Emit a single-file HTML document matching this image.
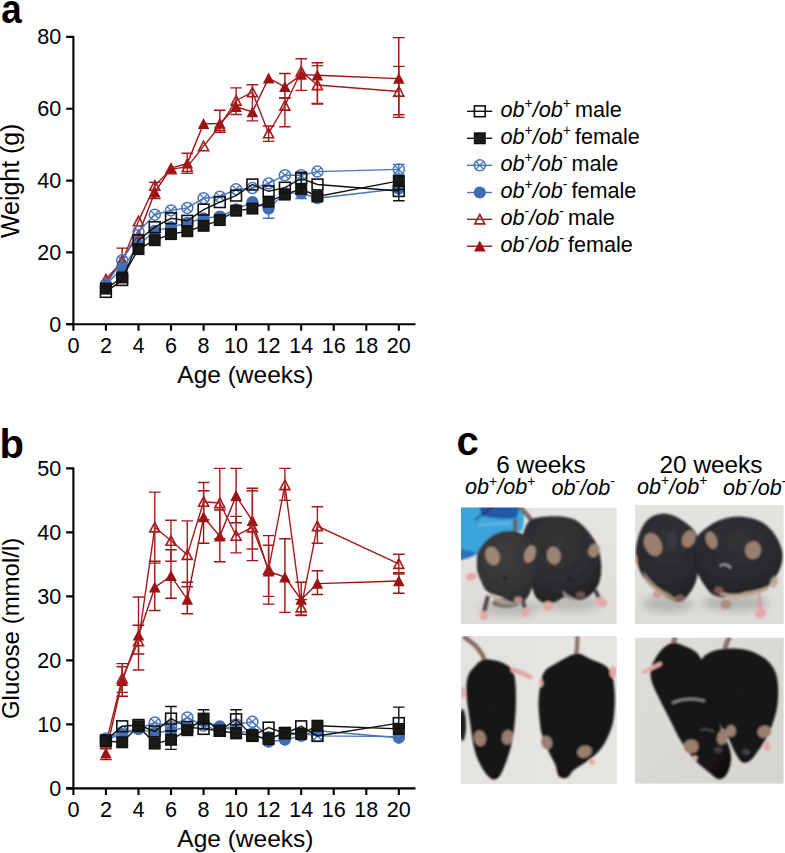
<!DOCTYPE html>
<html><head><meta charset="utf-8"><style>
html,body{margin:0;padding:0;background:#fff;width:785px;height:853px;overflow:hidden}
svg{display:block;font-family:"Liberation Sans",sans-serif}
.tk{font-size:21.6px;fill:#000}
.at{font-size:24.5px;fill:#000}
.pl{font-size:40px;font-weight:bold;fill:#000}
.gt{font-size:21.6px;fill:#000}
.sup{font-size:14px;font-style:normal}
.wk{font-size:24.4px;fill:#000}
</style></head><body>
<svg width="785" height="853" viewBox="0 0 785 853">
<defs>
<filter id="bl" x="-5%" y="-5%" width="110%" height="110%"><feGaussianBlur stdDeviation="1.2"/></filter>
<filter id="bl2" x="-5%" y="-5%" width="110%" height="110%"><feGaussianBlur stdDeviation="2.5"/></filter>
<clipPath id="c1"><rect x="461" y="507.5" width="155.8" height="116.5"/></clipPath>
<clipPath id="c2"><rect x="635" y="505" width="148.8" height="119"/></clipPath>
<clipPath id="c3"><rect x="461" y="636" width="155.8" height="148"/></clipPath>
<clipPath id="c4"><rect x="635" y="637.6" width="148.8" height="146.2"/></clipPath>
</defs>
<text transform="translate(1.2,23) scale(0.92,1)" class="pl">a</text>
<text x="-0.5" y="458.3" class="pl">b</text>
<text x="456.5" y="455.4" class="pl">c</text>
<path d="M73.4 36.0V325.2M66.2 324.2H415.5" stroke="#000" stroke-width="2.1" fill="none"/>
<path d="M66.2 324.2H73.4M66.2 252.4H73.4M66.2 180.6H73.4M66.2 108.7H73.4M66.2 36.9H73.4M73.4 324.2V330.8M105.9 324.2V330.8M138.5 324.2V330.8M171.0 324.2V330.8M203.6 324.2V330.8M236.1 324.2V330.8M268.6 324.2V330.8M301.2 324.2V330.8M333.7 324.2V330.8M366.3 324.2V330.8M398.8 324.2V330.8" stroke="#000" stroke-width="2.1" fill="none"/>
<text x="61.3" y="331.6" text-anchor="end" class="tk">0</text>
<text x="61.3" y="259.8" text-anchor="end" class="tk">20</text>
<text x="61.3" y="188.0" text-anchor="end" class="tk">40</text>
<text x="61.3" y="116.1" text-anchor="end" class="tk">60</text>
<text x="61.3" y="44.3" text-anchor="end" class="tk">80</text>
<text x="73.4" y="352.6" text-anchor="middle" class="tk">0</text>
<text x="105.9" y="352.6" text-anchor="middle" class="tk">2</text>
<text x="138.5" y="352.6" text-anchor="middle" class="tk">4</text>
<text x="171.0" y="352.6" text-anchor="middle" class="tk">6</text>
<text x="203.6" y="352.6" text-anchor="middle" class="tk">8</text>
<text x="236.1" y="352.6" text-anchor="middle" class="tk">10</text>
<text x="268.6" y="352.6" text-anchor="middle" class="tk">12</text>
<text x="301.2" y="352.6" text-anchor="middle" class="tk">14</text>
<text x="333.7" y="352.6" text-anchor="middle" class="tk">16</text>
<text x="366.3" y="352.6" text-anchor="middle" class="tk">18</text>
<text x="398.8" y="352.6" text-anchor="middle" class="tk">20</text>
<text transform="translate(18.9,180.8) rotate(-90)" text-anchor="middle" class="at" style="font-size:24.9px">Weight (g)</text>
<text x="245.4" y="382.6" text-anchor="middle" class="at">Age (weeks)</text>
<polyline points="105.9,282.9 122.2,259.6 138.5,234.4 154.8,192.4 171.0,168.0 187.3,163.3 203.6,123.8 219.8,123.5 236.1,106.9 252.4,112.0 268.6,78.2 284.9,86.8 301.2,74.6 317.4,75.3 398.8,78.6" fill="none" stroke="#9c1111" stroke-width="1.4"/>
<path d="M122.2 248.1V266.7M116.4 248.1H128.0M116.4 266.7H128.0" stroke="#9c1111" stroke-width="1.4" fill="none"/>
<path d="M154.8 182.4V198.5M148.9 182.4H160.6M148.9 198.5H160.6" stroke="#9c1111" stroke-width="1.4" fill="none"/>
<path d="M219.8 110.2V132.4M214.0 110.2H225.6M214.0 132.4H225.6" stroke="#9c1111" stroke-width="1.4" fill="none"/>
<path d="M284.9 73.5V98.0M279.1 73.5H290.7M279.1 98.0H290.7" stroke="#9c1111" stroke-width="1.4" fill="none"/>
<path d="M317.4 62.8V104.1M311.6 62.8H323.2M311.6 104.1H323.2" stroke="#9c1111" stroke-width="1.4" fill="none"/>
<path d="M398.8 37.6V117.4M393.0 37.6H404.6M393.0 117.4H404.6" stroke="#9c1111" stroke-width="1.4" fill="none"/>
<path d="M105.9 277.1L111.7 288.1L100.1 288.1Z" fill="#9c1111"/>
<path d="M122.2 253.8L128.0 264.8L116.4 264.8Z" fill="#9c1111"/>
<path d="M138.5 228.6L144.3 239.6L132.7 239.6Z" fill="#9c1111"/>
<path d="M154.8 186.6L160.6 197.6L148.9 197.6Z" fill="#9c1111"/>
<path d="M171.0 162.2L176.8 173.2L165.2 173.2Z" fill="#9c1111"/>
<path d="M187.3 157.5L193.1 168.5L181.5 168.5Z" fill="#9c1111"/>
<path d="M203.6 118.0L209.4 129.0L197.8 129.0Z" fill="#9c1111"/>
<path d="M219.8 117.7L225.6 128.7L214.0 128.7Z" fill="#9c1111"/>
<path d="M236.1 101.1L241.9 112.1L230.3 112.1Z" fill="#9c1111"/>
<path d="M252.4 106.2L258.2 117.2L246.6 117.2Z" fill="#9c1111"/>
<path d="M268.6 72.4L274.4 83.4L262.8 83.4Z" fill="#9c1111"/>
<path d="M284.9 81.0L290.7 92.0L279.1 92.0Z" fill="#9c1111"/>
<path d="M301.2 68.8L307.0 79.8L295.4 79.8Z" fill="#9c1111"/>
<path d="M317.4 69.5L323.2 80.5L311.6 80.5Z" fill="#9c1111"/>
<path d="M398.8 72.8L404.6 83.8L393.0 83.8Z" fill="#9c1111"/>
<polyline points="105.9,279.3 122.2,261.4 138.5,221.1 154.8,185.6 171.0,169.1 187.3,166.9 203.6,146.1 219.8,126.0 236.1,100.5 252.4,92.2 268.6,133.2 284.9,105.5 301.2,71.4 317.4,85.0 398.8,91.5" fill="none" stroke="#a51b1d" stroke-width="1.4"/>
<path d="M187.3 153.3V173.4M181.5 153.3H193.1M181.5 173.4H193.1" stroke="#a51b1d" stroke-width="1.4" fill="none"/>
<path d="M236.1 87.9V114.5M230.3 87.9H241.9M230.3 114.5H241.9" stroke="#a51b1d" stroke-width="1.4" fill="none"/>
<path d="M252.4 84.7V120.9M246.6 84.7H258.2M246.6 120.9H258.2" stroke="#a51b1d" stroke-width="1.4" fill="none"/>
<path d="M268.6 126.0V141.4M262.8 126.0H274.4M262.8 141.4H274.4" stroke="#a51b1d" stroke-width="1.4" fill="none"/>
<path d="M284.9 98.0V126.7M279.1 98.0H290.7M279.1 126.7H290.7" stroke="#a51b1d" stroke-width="1.4" fill="none"/>
<path d="M301.2 58.8V90.4M295.4 58.8H307.0M295.4 90.4H307.0" stroke="#a51b1d" stroke-width="1.4" fill="none"/>
<path d="M317.4 65.6V103.4M311.6 65.6H323.2M311.6 103.4H323.2" stroke="#a51b1d" stroke-width="1.4" fill="none"/>
<path d="M398.8 66.4V114.8M393.0 66.4H404.6M393.0 114.8H404.6" stroke="#a51b1d" stroke-width="1.4" fill="none"/>
<path d="M105.9 274.5L110.9 283.9L100.9 283.9Z" fill="none" stroke="#a51b1d" stroke-width="1.6" stroke-linejoin="miter"/>
<path d="M122.2 256.6L127.2 266.0L117.2 266.0Z" fill="none" stroke="#a51b1d" stroke-width="1.6" stroke-linejoin="miter"/>
<path d="M138.5 216.3L143.5 225.7L133.5 225.7Z" fill="none" stroke="#a51b1d" stroke-width="1.6" stroke-linejoin="miter"/>
<path d="M154.8 180.8L159.8 190.2L149.8 190.2Z" fill="none" stroke="#a51b1d" stroke-width="1.6" stroke-linejoin="miter"/>
<path d="M171.0 164.3L176.0 173.7L166.0 173.7Z" fill="none" stroke="#a51b1d" stroke-width="1.6" stroke-linejoin="miter"/>
<path d="M187.3 162.1L192.3 171.5L182.3 171.5Z" fill="none" stroke="#a51b1d" stroke-width="1.6" stroke-linejoin="miter"/>
<path d="M203.6 141.3L208.6 150.7L198.6 150.7Z" fill="none" stroke="#a51b1d" stroke-width="1.6" stroke-linejoin="miter"/>
<path d="M219.8 121.2L224.8 130.6L214.8 130.6Z" fill="none" stroke="#a51b1d" stroke-width="1.6" stroke-linejoin="miter"/>
<path d="M236.1 95.7L241.1 105.1L231.1 105.1Z" fill="none" stroke="#a51b1d" stroke-width="1.6" stroke-linejoin="miter"/>
<path d="M252.4 87.4L257.4 96.8L247.4 96.8Z" fill="none" stroke="#a51b1d" stroke-width="1.6" stroke-linejoin="miter"/>
<path d="M268.6 128.4L273.6 137.8L263.6 137.8Z" fill="none" stroke="#a51b1d" stroke-width="1.6" stroke-linejoin="miter"/>
<path d="M284.9 100.7L289.9 110.1L279.9 110.1Z" fill="none" stroke="#a51b1d" stroke-width="1.6" stroke-linejoin="miter"/>
<path d="M301.2 66.6L306.2 76.0L296.2 76.0Z" fill="none" stroke="#a51b1d" stroke-width="1.6" stroke-linejoin="miter"/>
<path d="M317.4 80.2L322.4 89.6L312.4 89.6Z" fill="none" stroke="#a51b1d" stroke-width="1.6" stroke-linejoin="miter"/>
<path d="M398.8 86.7L403.8 96.1L393.8 96.1Z" fill="none" stroke="#a51b1d" stroke-width="1.6" stroke-linejoin="miter"/>
<polyline points="105.9,284.7 122.2,268.5 138.5,245.2 154.8,230.8 171.0,227.2 187.3,222.9 203.6,218.3 219.8,216.5 236.1,209.3 252.4,202.1 268.6,208.6 284.9,193.1 301.2,193.1 317.4,198.2 398.8,188.8" fill="none" stroke="#4675ba" stroke-width="1.4"/>
<path d="M268.6 200.3V218.3M262.8 200.3H274.4M262.8 218.3H274.4" stroke="#4675ba" stroke-width="1.4" fill="none"/>
<path d="M301.2 187.7V198.5M295.4 187.7H307.0M295.4 198.5H307.0" stroke="#4675ba" stroke-width="1.4" fill="none"/>
<circle cx="105.9" cy="284.7" r="6.1" fill="#3f6db4"/>
<circle cx="122.2" cy="268.5" r="6.1" fill="#3f6db4"/>
<circle cx="138.5" cy="245.2" r="6.1" fill="#3f6db4"/>
<circle cx="154.8" cy="230.8" r="6.1" fill="#3f6db4"/>
<circle cx="171.0" cy="227.2" r="6.1" fill="#3f6db4"/>
<circle cx="187.3" cy="222.9" r="6.1" fill="#3f6db4"/>
<circle cx="203.6" cy="218.3" r="6.1" fill="#3f6db4"/>
<circle cx="219.8" cy="216.5" r="6.1" fill="#3f6db4"/>
<circle cx="236.1" cy="209.3" r="6.1" fill="#3f6db4"/>
<circle cx="252.4" cy="202.1" r="6.1" fill="#3f6db4"/>
<circle cx="268.6" cy="208.6" r="6.1" fill="#3f6db4"/>
<circle cx="284.9" cy="193.1" r="6.1" fill="#3f6db4"/>
<circle cx="301.2" cy="193.1" r="6.1" fill="#3f6db4"/>
<circle cx="317.4" cy="198.2" r="6.1" fill="#3f6db4"/>
<circle cx="398.8" cy="188.8" r="6.1" fill="#3f6db4"/>
<polyline points="105.9,284.7 122.2,260.3 138.5,231.6 154.8,214.7 171.0,210.4 187.3,207.9 203.6,198.2 219.8,196.7 236.1,189.2 252.4,188.1 268.6,183.4 284.9,175.2 301.2,175.2 317.4,171.6 398.8,169.4" fill="none" stroke="#4675ba" stroke-width="1.4"/>
<path d="M398.8 164.4V174.1M393.0 164.4H404.6M393.0 174.1H404.6" stroke="#4675ba" stroke-width="1.4" fill="none"/>
<circle cx="105.9" cy="284.7" r="5.5" fill="none" stroke="#4675ba" stroke-width="1.5"/><path d="M102.1 280.9L109.7 288.5M102.1 288.5L109.7 280.9" stroke="#4675ba" stroke-width="1.3"/>
<circle cx="122.2" cy="260.3" r="5.5" fill="none" stroke="#4675ba" stroke-width="1.5"/><path d="M118.4 256.5L126.0 264.1M118.4 264.1L126.0 256.5" stroke="#4675ba" stroke-width="1.3"/>
<circle cx="138.5" cy="231.6" r="5.5" fill="none" stroke="#4675ba" stroke-width="1.5"/><path d="M134.7 227.8L142.3 235.4M134.7 235.4L142.3 227.8" stroke="#4675ba" stroke-width="1.3"/>
<circle cx="154.8" cy="214.7" r="5.5" fill="none" stroke="#4675ba" stroke-width="1.5"/><path d="M150.9 210.9L158.6 218.5M150.9 218.5L158.6 210.9" stroke="#4675ba" stroke-width="1.3"/>
<circle cx="171.0" cy="210.4" r="5.5" fill="none" stroke="#4675ba" stroke-width="1.5"/><path d="M167.2 206.6L174.8 214.2M167.2 214.2L174.8 206.6" stroke="#4675ba" stroke-width="1.3"/>
<circle cx="187.3" cy="207.9" r="5.5" fill="none" stroke="#4675ba" stroke-width="1.5"/><path d="M183.5 204.1L191.1 211.7M183.5 211.7L191.1 204.1" stroke="#4675ba" stroke-width="1.3"/>
<circle cx="203.6" cy="198.2" r="5.5" fill="none" stroke="#4675ba" stroke-width="1.5"/><path d="M199.8 194.4L207.4 202.0M199.8 202.0L207.4 194.4" stroke="#4675ba" stroke-width="1.3"/>
<circle cx="219.8" cy="196.7" r="5.5" fill="none" stroke="#4675ba" stroke-width="1.5"/><path d="M216.0 192.9L223.6 200.5M216.0 200.5L223.6 192.9" stroke="#4675ba" stroke-width="1.3"/>
<circle cx="236.1" cy="189.2" r="5.5" fill="none" stroke="#4675ba" stroke-width="1.5"/><path d="M232.3 185.4L239.9 193.0M232.3 193.0L239.9 185.4" stroke="#4675ba" stroke-width="1.3"/>
<circle cx="252.4" cy="188.1" r="5.5" fill="none" stroke="#4675ba" stroke-width="1.5"/><path d="M248.6 184.3L256.2 191.9M248.6 191.9L256.2 184.3" stroke="#4675ba" stroke-width="1.3"/>
<circle cx="268.6" cy="183.4" r="5.5" fill="none" stroke="#4675ba" stroke-width="1.5"/><path d="M264.8 179.6L272.4 187.2M264.8 187.2L272.4 179.6" stroke="#4675ba" stroke-width="1.3"/>
<circle cx="284.9" cy="175.2" r="5.5" fill="none" stroke="#4675ba" stroke-width="1.5"/><path d="M281.1 171.4L288.7 179.0M281.1 179.0L288.7 171.4" stroke="#4675ba" stroke-width="1.3"/>
<circle cx="301.2" cy="175.2" r="5.5" fill="none" stroke="#4675ba" stroke-width="1.5"/><path d="M297.4 171.4L305.0 179.0M297.4 179.0L305.0 171.4" stroke="#4675ba" stroke-width="1.3"/>
<circle cx="317.4" cy="171.6" r="5.5" fill="none" stroke="#4675ba" stroke-width="1.5"/><path d="M313.6 167.8L321.2 175.4M313.6 175.4L321.2 167.8" stroke="#4675ba" stroke-width="1.3"/>
<circle cx="398.8" cy="169.4" r="5.5" fill="none" stroke="#4675ba" stroke-width="1.5"/><path d="M395.0 165.6L402.6 173.2M395.0 173.2L402.6 165.6" stroke="#4675ba" stroke-width="1.3"/>
<polyline points="105.9,288.6 122.2,277.5 138.5,249.1 154.8,240.2 171.0,234.1 187.3,231.2 203.6,225.8 219.8,220.1 236.1,210.7 252.4,208.6 268.6,201.7 284.9,194.6 301.2,188.8 317.4,196.4 398.8,180.9" fill="none" stroke="#111" stroke-width="1.4"/>
<path d="M398.8 177.0V189.5M393.0 177.0H404.6M393.0 189.5H404.6" stroke="#111" stroke-width="1.4" fill="none"/>
<rect x="100.6" y="283.3" width="10.6" height="10.6" fill="#1b1a14" stroke="#111" stroke-width="1.4"/>
<rect x="116.9" y="272.2" width="10.6" height="10.6" fill="#1b1a14" stroke="#111" stroke-width="1.4"/>
<rect x="133.2" y="243.8" width="10.6" height="10.6" fill="#1b1a14" stroke="#111" stroke-width="1.4"/>
<rect x="149.4" y="234.9" width="10.6" height="10.6" fill="#1b1a14" stroke="#111" stroke-width="1.4"/>
<rect x="165.7" y="228.8" width="10.6" height="10.6" fill="#1b1a14" stroke="#111" stroke-width="1.4"/>
<rect x="182.0" y="225.9" width="10.6" height="10.6" fill="#1b1a14" stroke="#111" stroke-width="1.4"/>
<rect x="198.3" y="220.5" width="10.6" height="10.6" fill="#1b1a14" stroke="#111" stroke-width="1.4"/>
<rect x="214.5" y="214.8" width="10.6" height="10.6" fill="#1b1a14" stroke="#111" stroke-width="1.4"/>
<rect x="230.8" y="205.4" width="10.6" height="10.6" fill="#1b1a14" stroke="#111" stroke-width="1.4"/>
<rect x="247.1" y="203.3" width="10.6" height="10.6" fill="#1b1a14" stroke="#111" stroke-width="1.4"/>
<rect x="263.3" y="196.4" width="10.6" height="10.6" fill="#1b1a14" stroke="#111" stroke-width="1.4"/>
<rect x="279.6" y="189.3" width="10.6" height="10.6" fill="#1b1a14" stroke="#111" stroke-width="1.4"/>
<rect x="295.9" y="183.5" width="10.6" height="10.6" fill="#1b1a14" stroke="#111" stroke-width="1.4"/>
<rect x="312.1" y="191.1" width="10.6" height="10.6" fill="#1b1a14" stroke="#111" stroke-width="1.4"/>
<rect x="393.5" y="175.6" width="10.6" height="10.6" fill="#1b1a14" stroke="#111" stroke-width="1.4"/>
<polyline points="105.9,291.9 122.2,280.0 138.5,240.2 154.8,227.2 171.0,218.3 187.3,220.8 203.6,209.6 219.8,202.1 236.1,195.6 252.4,184.5 268.6,191.3 284.9,187.7 301.2,178.4 317.4,184.5 398.8,191.0" fill="none" stroke="#111" stroke-width="1.4"/>
<path d="M301.2 172.3V187.7M295.4 172.3H307.0M295.4 187.7H307.0" stroke="#111" stroke-width="1.4" fill="none"/>
<path d="M398.8 182.4V200.7M393.0 182.4H404.6M393.0 200.7H404.6" stroke="#111" stroke-width="1.4" fill="none"/>
<rect x="100.5" y="286.5" width="10.8" height="10.8" fill="none" stroke="#111" stroke-width="1.6"/>
<rect x="116.8" y="274.6" width="10.8" height="10.8" fill="none" stroke="#111" stroke-width="1.6"/>
<rect x="133.1" y="234.8" width="10.8" height="10.8" fill="none" stroke="#111" stroke-width="1.6"/>
<rect x="149.3" y="221.8" width="10.8" height="10.8" fill="none" stroke="#111" stroke-width="1.6"/>
<rect x="165.6" y="212.9" width="10.8" height="10.8" fill="none" stroke="#111" stroke-width="1.6"/>
<rect x="181.9" y="215.4" width="10.8" height="10.8" fill="none" stroke="#111" stroke-width="1.6"/>
<rect x="198.2" y="204.2" width="10.8" height="10.8" fill="none" stroke="#111" stroke-width="1.6"/>
<rect x="214.4" y="196.7" width="10.8" height="10.8" fill="none" stroke="#111" stroke-width="1.6"/>
<rect x="230.7" y="190.2" width="10.8" height="10.8" fill="none" stroke="#111" stroke-width="1.6"/>
<rect x="247.0" y="179.1" width="10.8" height="10.8" fill="none" stroke="#111" stroke-width="1.6"/>
<rect x="263.2" y="185.9" width="10.8" height="10.8" fill="none" stroke="#111" stroke-width="1.6"/>
<rect x="279.5" y="182.3" width="10.8" height="10.8" fill="none" stroke="#111" stroke-width="1.6"/>
<rect x="295.8" y="173.0" width="10.8" height="10.8" fill="none" stroke="#111" stroke-width="1.6"/>
<rect x="312.1" y="179.1" width="10.8" height="10.8" fill="none" stroke="#111" stroke-width="1.6"/>
<rect x="393.4" y="185.6" width="10.8" height="10.8" fill="none" stroke="#111" stroke-width="1.6"/>
<path d="M73.4 467.5V789.4M66.2 788.4H415.5" stroke="#000" stroke-width="2.1" fill="none"/>
<path d="M66.2 788.4H73.4M66.2 724.4H73.4M66.2 660.4H73.4M66.2 596.4H73.4M66.2 532.4H73.4M66.2 468.4H73.4M73.4 788.4V795.0M105.9 788.4V795.0M138.5 788.4V795.0M171.0 788.4V795.0M203.6 788.4V795.0M236.1 788.4V795.0M268.6 788.4V795.0M301.2 788.4V795.0M333.7 788.4V795.0M366.3 788.4V795.0M398.8 788.4V795.0" stroke="#000" stroke-width="2.1" fill="none"/>
<text x="61.3" y="795.8" text-anchor="end" class="tk">0</text>
<text x="61.3" y="731.8" text-anchor="end" class="tk">10</text>
<text x="61.3" y="667.8" text-anchor="end" class="tk">20</text>
<text x="61.3" y="603.8" text-anchor="end" class="tk">30</text>
<text x="61.3" y="539.8" text-anchor="end" class="tk">40</text>
<text x="61.3" y="475.8" text-anchor="end" class="tk">50</text>
<text x="73.4" y="816.8" text-anchor="middle" class="tk">0</text>
<text x="105.9" y="816.8" text-anchor="middle" class="tk">2</text>
<text x="138.5" y="816.8" text-anchor="middle" class="tk">4</text>
<text x="171.0" y="816.8" text-anchor="middle" class="tk">6</text>
<text x="203.6" y="816.8" text-anchor="middle" class="tk">8</text>
<text x="236.1" y="816.8" text-anchor="middle" class="tk">10</text>
<text x="268.6" y="816.8" text-anchor="middle" class="tk">12</text>
<text x="301.2" y="816.8" text-anchor="middle" class="tk">14</text>
<text x="333.7" y="816.8" text-anchor="middle" class="tk">16</text>
<text x="366.3" y="816.8" text-anchor="middle" class="tk">18</text>
<text x="398.8" y="816.8" text-anchor="middle" class="tk">20</text>
<text transform="translate(18.9,628.4) rotate(-90)" text-anchor="middle" class="at" style="font-size:24px">Glucose (mmol/l)</text>
<text x="245.4" y="846.8" text-anchor="middle" class="at">Age (weeks)</text>
<polyline points="105.9,753.2 122.2,680.9 138.5,635.4 154.8,587.4 171.0,575.9 187.3,599.6 203.6,517.0 219.8,536.2 236.1,495.9 252.4,520.9 268.6,571.4 284.9,577.2 301.2,599.6 317.4,583.6 398.8,581.0" fill="none" stroke="#9c1111" stroke-width="1.4"/>
<path d="M105.9 746.8V759.6M100.1 746.8H111.7M100.1 759.6H111.7" stroke="#9c1111" stroke-width="1.4" fill="none"/>
<path d="M122.2 663.6V696.2M116.4 663.6H128.0M116.4 696.2H128.0" stroke="#9c1111" stroke-width="1.4" fill="none"/>
<path d="M138.5 625.2V654.0M132.7 625.2H144.3M132.7 654.0H144.3" stroke="#9c1111" stroke-width="1.4" fill="none"/>
<path d="M154.8 561.2V610.5M148.9 561.2H160.6M148.9 610.5H160.6" stroke="#9c1111" stroke-width="1.4" fill="none"/>
<path d="M171.0 549.7V598.3M165.2 549.7H176.8M165.2 598.3H176.8" stroke="#9c1111" stroke-width="1.4" fill="none"/>
<path d="M187.3 582.3V613.7M181.5 582.3H193.1M181.5 613.7H193.1" stroke="#9c1111" stroke-width="1.4" fill="none"/>
<path d="M203.6 490.8V543.3M197.8 490.8H209.4M197.8 543.3H209.4" stroke="#9c1111" stroke-width="1.4" fill="none"/>
<path d="M219.8 510.0V561.8M214.0 510.0H225.6M214.0 561.8H225.6" stroke="#9c1111" stroke-width="1.4" fill="none"/>
<path d="M236.1 468.4V522.8M230.3 468.4H241.9M230.3 522.8H241.9" stroke="#9c1111" stroke-width="1.4" fill="none"/>
<path d="M252.4 488.2V560.6M246.6 488.2H258.2M246.6 560.6H258.2" stroke="#9c1111" stroke-width="1.4" fill="none"/>
<path d="M268.6 535.6V604.1M262.8 535.6H274.4M262.8 604.1H274.4" stroke="#9c1111" stroke-width="1.4" fill="none"/>
<path d="M284.9 538.8V612.4M279.1 538.8H290.7M279.1 612.4H290.7" stroke="#9c1111" stroke-width="1.4" fill="none"/>
<path d="M301.2 582.3V615.6M295.4 582.3H307.0M295.4 615.6H307.0" stroke="#9c1111" stroke-width="1.4" fill="none"/>
<path d="M317.4 570.8V594.5M311.6 570.8H323.2M311.6 594.5H323.2" stroke="#9c1111" stroke-width="1.4" fill="none"/>
<path d="M398.8 572.7V593.2M393.0 572.7H404.6M393.0 593.2H404.6" stroke="#9c1111" stroke-width="1.4" fill="none"/>
<path d="M105.9 747.4L111.7 758.4L100.1 758.4Z" fill="#9c1111"/>
<path d="M122.2 675.1L128.0 686.1L116.4 686.1Z" fill="#9c1111"/>
<path d="M138.5 629.6L144.3 640.6L132.7 640.6Z" fill="#9c1111"/>
<path d="M154.8 581.6L160.6 592.6L148.9 592.6Z" fill="#9c1111"/>
<path d="M171.0 570.1L176.8 581.1L165.2 581.1Z" fill="#9c1111"/>
<path d="M187.3 593.8L193.1 604.8L181.5 604.8Z" fill="#9c1111"/>
<path d="M203.6 511.2L209.4 522.2L197.8 522.2Z" fill="#9c1111"/>
<path d="M219.8 530.4L225.6 541.4L214.0 541.4Z" fill="#9c1111"/>
<path d="M236.1 490.1L241.9 501.1L230.3 501.1Z" fill="#9c1111"/>
<path d="M252.4 515.1L258.2 526.1L246.6 526.1Z" fill="#9c1111"/>
<path d="M268.6 565.6L274.4 576.6L262.8 576.6Z" fill="#9c1111"/>
<path d="M284.9 571.4L290.7 582.4L279.1 582.4Z" fill="#9c1111"/>
<path d="M301.2 593.8L307.0 604.8L295.4 604.8Z" fill="#9c1111"/>
<path d="M317.4 577.8L323.2 588.8L311.6 588.8Z" fill="#9c1111"/>
<path d="M398.8 575.2L404.6 586.2L393.0 586.2Z" fill="#9c1111"/>
<polyline points="105.9,743.6 122.2,678.3 138.5,641.2 154.8,527.3 171.0,540.7 187.3,554.8 203.6,501.7 219.8,503.0 236.1,535.6 252.4,527.3 268.6,569.5 284.9,485.0 301.2,607.3 317.4,526.0 398.8,563.8" fill="none" stroke="#a51b1d" stroke-width="1.4"/>
<path d="M105.9 735.3V748.7M100.1 735.3H111.7M100.1 748.7H111.7" stroke="#a51b1d" stroke-width="1.4" fill="none"/>
<path d="M122.2 666.8V692.4M116.4 666.8H128.0M116.4 692.4H128.0" stroke="#a51b1d" stroke-width="1.4" fill="none"/>
<path d="M138.5 597.0V670.0M132.7 597.0H144.3M132.7 670.0H144.3" stroke="#a51b1d" stroke-width="1.4" fill="none"/>
<path d="M154.8 492.1V563.1M148.9 492.1H160.6M148.9 563.1H160.6" stroke="#a51b1d" stroke-width="1.4" fill="none"/>
<path d="M171.0 520.2V561.2M165.2 520.2H176.8M165.2 561.2H176.8" stroke="#a51b1d" stroke-width="1.4" fill="none"/>
<path d="M187.3 520.9V586.8M181.5 520.9H193.1M181.5 586.8H193.1" stroke="#a51b1d" stroke-width="1.4" fill="none"/>
<path d="M203.6 482.5V519.6M197.8 482.5H209.4M197.8 519.6H209.4" stroke="#a51b1d" stroke-width="1.4" fill="none"/>
<path d="M219.8 468.4V538.8M214.0 468.4H225.6M214.0 538.8H225.6" stroke="#a51b1d" stroke-width="1.4" fill="none"/>
<path d="M236.1 516.4V552.9M230.3 516.4H241.9M230.3 552.9H241.9" stroke="#a51b1d" stroke-width="1.4" fill="none"/>
<path d="M252.4 490.8V549.0M246.6 490.8H258.2M246.6 549.0H258.2" stroke="#a51b1d" stroke-width="1.4" fill="none"/>
<path d="M268.6 545.2V596.4M262.8 545.2H274.4M262.8 596.4H274.4" stroke="#a51b1d" stroke-width="1.4" fill="none"/>
<path d="M284.9 468.4V500.4M279.1 468.4H290.7M279.1 500.4H290.7" stroke="#a51b1d" stroke-width="1.4" fill="none"/>
<path d="M301.2 599.6V615.0M295.4 599.6H307.0M295.4 615.0H307.0" stroke="#a51b1d" stroke-width="1.4" fill="none"/>
<path d="M317.4 506.8V543.3M311.6 506.8H323.2M311.6 543.3H323.2" stroke="#a51b1d" stroke-width="1.4" fill="none"/>
<path d="M398.8 554.2V574.0M393.0 554.2H404.6M393.0 574.0H404.6" stroke="#a51b1d" stroke-width="1.4" fill="none"/>
<path d="M105.9 738.8L110.9 748.2L100.9 748.2Z" fill="none" stroke="#a51b1d" stroke-width="1.6" stroke-linejoin="miter"/>
<path d="M122.2 673.5L127.2 682.9L117.2 682.9Z" fill="none" stroke="#a51b1d" stroke-width="1.6" stroke-linejoin="miter"/>
<path d="M138.5 636.4L143.5 645.8L133.5 645.8Z" fill="none" stroke="#a51b1d" stroke-width="1.6" stroke-linejoin="miter"/>
<path d="M154.8 522.5L159.8 531.9L149.8 531.9Z" fill="none" stroke="#a51b1d" stroke-width="1.6" stroke-linejoin="miter"/>
<path d="M171.0 535.9L176.0 545.3L166.0 545.3Z" fill="none" stroke="#a51b1d" stroke-width="1.6" stroke-linejoin="miter"/>
<path d="M187.3 550.0L192.3 559.4L182.3 559.4Z" fill="none" stroke="#a51b1d" stroke-width="1.6" stroke-linejoin="miter"/>
<path d="M203.6 496.9L208.6 506.3L198.6 506.3Z" fill="none" stroke="#a51b1d" stroke-width="1.6" stroke-linejoin="miter"/>
<path d="M219.8 498.2L224.8 507.6L214.8 507.6Z" fill="none" stroke="#a51b1d" stroke-width="1.6" stroke-linejoin="miter"/>
<path d="M236.1 530.8L241.1 540.2L231.1 540.2Z" fill="none" stroke="#a51b1d" stroke-width="1.6" stroke-linejoin="miter"/>
<path d="M252.4 522.5L257.4 531.9L247.4 531.9Z" fill="none" stroke="#a51b1d" stroke-width="1.6" stroke-linejoin="miter"/>
<path d="M268.6 564.7L273.6 574.1L263.6 574.1Z" fill="none" stroke="#a51b1d" stroke-width="1.6" stroke-linejoin="miter"/>
<path d="M284.9 480.2L289.9 489.6L279.9 489.6Z" fill="none" stroke="#a51b1d" stroke-width="1.6" stroke-linejoin="miter"/>
<path d="M301.2 602.5L306.2 611.9L296.2 611.9Z" fill="none" stroke="#a51b1d" stroke-width="1.6" stroke-linejoin="miter"/>
<path d="M317.4 521.2L322.4 530.6L312.4 530.6Z" fill="none" stroke="#a51b1d" stroke-width="1.6" stroke-linejoin="miter"/>
<path d="M398.8 559.0L403.8 568.4L393.8 568.4Z" fill="none" stroke="#a51b1d" stroke-width="1.6" stroke-linejoin="miter"/>
<polyline points="105.9,739.8 122.2,734.0 138.5,728.9 154.8,732.7 171.0,730.8 187.3,727.0 203.6,721.2 219.8,726.3 236.1,730.8 252.4,733.4 268.6,741.7 284.9,739.8 301.2,735.9 317.4,730.8 398.8,737.8" fill="none" stroke="#4675ba" stroke-width="1.4"/>
<circle cx="105.9" cy="739.8" r="6.1" fill="#3f6db4"/>
<circle cx="122.2" cy="734.0" r="6.1" fill="#3f6db4"/>
<circle cx="138.5" cy="728.9" r="6.1" fill="#3f6db4"/>
<circle cx="154.8" cy="732.7" r="6.1" fill="#3f6db4"/>
<circle cx="171.0" cy="730.8" r="6.1" fill="#3f6db4"/>
<circle cx="187.3" cy="727.0" r="6.1" fill="#3f6db4"/>
<circle cx="203.6" cy="721.2" r="6.1" fill="#3f6db4"/>
<circle cx="219.8" cy="726.3" r="6.1" fill="#3f6db4"/>
<circle cx="236.1" cy="730.8" r="6.1" fill="#3f6db4"/>
<circle cx="252.4" cy="733.4" r="6.1" fill="#3f6db4"/>
<circle cx="268.6" cy="741.7" r="6.1" fill="#3f6db4"/>
<circle cx="284.9" cy="739.8" r="6.1" fill="#3f6db4"/>
<circle cx="301.2" cy="735.9" r="6.1" fill="#3f6db4"/>
<circle cx="317.4" cy="730.8" r="6.1" fill="#3f6db4"/>
<circle cx="398.8" cy="737.8" r="6.1" fill="#3f6db4"/>
<polyline points="105.9,738.5 122.2,732.1 138.5,728.9 154.8,722.5 171.0,727.0 187.3,717.4 203.6,725.7 219.8,730.8 236.1,724.4 252.4,721.8 268.6,737.2 284.9,735.3 301.2,733.4 317.4,735.9 398.8,736.6" fill="none" stroke="#4675ba" stroke-width="1.4"/>
<circle cx="105.9" cy="738.5" r="5.5" fill="none" stroke="#4675ba" stroke-width="1.5"/><path d="M102.1 734.7L109.7 742.3M102.1 742.3L109.7 734.7" stroke="#4675ba" stroke-width="1.3"/>
<circle cx="122.2" cy="732.1" r="5.5" fill="none" stroke="#4675ba" stroke-width="1.5"/><path d="M118.4 728.3L126.0 735.9M118.4 735.9L126.0 728.3" stroke="#4675ba" stroke-width="1.3"/>
<circle cx="138.5" cy="728.9" r="5.5" fill="none" stroke="#4675ba" stroke-width="1.5"/><path d="M134.7 725.1L142.3 732.7M134.7 732.7L142.3 725.1" stroke="#4675ba" stroke-width="1.3"/>
<circle cx="154.8" cy="722.5" r="5.5" fill="none" stroke="#4675ba" stroke-width="1.5"/><path d="M150.9 718.7L158.6 726.3M150.9 726.3L158.6 718.7" stroke="#4675ba" stroke-width="1.3"/>
<circle cx="171.0" cy="727.0" r="5.5" fill="none" stroke="#4675ba" stroke-width="1.5"/><path d="M167.2 723.2L174.8 730.8M167.2 730.8L174.8 723.2" stroke="#4675ba" stroke-width="1.3"/>
<circle cx="187.3" cy="717.4" r="5.5" fill="none" stroke="#4675ba" stroke-width="1.5"/><path d="M183.5 713.6L191.1 721.2M183.5 721.2L191.1 713.6" stroke="#4675ba" stroke-width="1.3"/>
<circle cx="203.6" cy="725.7" r="5.5" fill="none" stroke="#4675ba" stroke-width="1.5"/><path d="M199.8 721.9L207.4 729.5M199.8 729.5L207.4 721.9" stroke="#4675ba" stroke-width="1.3"/>
<circle cx="219.8" cy="730.8" r="5.5" fill="none" stroke="#4675ba" stroke-width="1.5"/><path d="M216.0 727.0L223.6 734.6M216.0 734.6L223.6 727.0" stroke="#4675ba" stroke-width="1.3"/>
<circle cx="236.1" cy="724.4" r="5.5" fill="none" stroke="#4675ba" stroke-width="1.5"/><path d="M232.3 720.6L239.9 728.2M232.3 728.2L239.9 720.6" stroke="#4675ba" stroke-width="1.3"/>
<circle cx="252.4" cy="721.8" r="5.5" fill="none" stroke="#4675ba" stroke-width="1.5"/><path d="M248.6 718.0L256.2 725.6M248.6 725.6L256.2 718.0" stroke="#4675ba" stroke-width="1.3"/>
<circle cx="268.6" cy="737.2" r="5.5" fill="none" stroke="#4675ba" stroke-width="1.5"/><path d="M264.8 733.4L272.4 741.0M264.8 741.0L272.4 733.4" stroke="#4675ba" stroke-width="1.3"/>
<circle cx="284.9" cy="735.3" r="5.5" fill="none" stroke="#4675ba" stroke-width="1.5"/><path d="M281.1 731.5L288.7 739.1M281.1 739.1L288.7 731.5" stroke="#4675ba" stroke-width="1.3"/>
<circle cx="301.2" cy="733.4" r="5.5" fill="none" stroke="#4675ba" stroke-width="1.5"/><path d="M297.4 729.6L305.0 737.2M297.4 737.2L305.0 729.6" stroke="#4675ba" stroke-width="1.3"/>
<circle cx="317.4" cy="735.9" r="5.5" fill="none" stroke="#4675ba" stroke-width="1.5"/><path d="M313.6 732.1L321.2 739.7M313.6 739.7L321.2 732.1" stroke="#4675ba" stroke-width="1.3"/>
<circle cx="398.8" cy="736.6" r="5.5" fill="none" stroke="#4675ba" stroke-width="1.5"/><path d="M395.0 732.8L402.6 740.4M395.0 740.4L402.6 732.8" stroke="#4675ba" stroke-width="1.3"/>
<polyline points="105.9,741.0 122.2,742.3 138.5,726.3 154.8,743.6 171.0,739.8 187.3,730.2 203.6,718.6 219.8,730.8 236.1,733.4 252.4,735.3 268.6,739.1 284.9,732.7 301.2,734.0 317.4,725.7 398.8,728.9" fill="none" stroke="#111" stroke-width="1.4"/>
<path d="M171.0 730.8V749.4M165.2 730.8H176.8M165.2 749.4H176.8" stroke="#111" stroke-width="1.4" fill="none"/>
<rect x="100.6" y="735.7" width="10.6" height="10.6" fill="#1b1a14" stroke="#111" stroke-width="1.4"/>
<rect x="116.9" y="737.0" width="10.6" height="10.6" fill="#1b1a14" stroke="#111" stroke-width="1.4"/>
<rect x="133.2" y="721.0" width="10.6" height="10.6" fill="#1b1a14" stroke="#111" stroke-width="1.4"/>
<rect x="149.4" y="738.3" width="10.6" height="10.6" fill="#1b1a14" stroke="#111" stroke-width="1.4"/>
<rect x="165.7" y="734.5" width="10.6" height="10.6" fill="#1b1a14" stroke="#111" stroke-width="1.4"/>
<rect x="182.0" y="724.9" width="10.6" height="10.6" fill="#1b1a14" stroke="#111" stroke-width="1.4"/>
<rect x="198.3" y="713.3" width="10.6" height="10.6" fill="#1b1a14" stroke="#111" stroke-width="1.4"/>
<rect x="214.5" y="725.5" width="10.6" height="10.6" fill="#1b1a14" stroke="#111" stroke-width="1.4"/>
<rect x="230.8" y="728.1" width="10.6" height="10.6" fill="#1b1a14" stroke="#111" stroke-width="1.4"/>
<rect x="247.1" y="730.0" width="10.6" height="10.6" fill="#1b1a14" stroke="#111" stroke-width="1.4"/>
<rect x="263.3" y="733.8" width="10.6" height="10.6" fill="#1b1a14" stroke="#111" stroke-width="1.4"/>
<rect x="279.6" y="727.4" width="10.6" height="10.6" fill="#1b1a14" stroke="#111" stroke-width="1.4"/>
<rect x="295.9" y="728.7" width="10.6" height="10.6" fill="#1b1a14" stroke="#111" stroke-width="1.4"/>
<rect x="312.1" y="720.4" width="10.6" height="10.6" fill="#1b1a14" stroke="#111" stroke-width="1.4"/>
<rect x="393.5" y="723.6" width="10.6" height="10.6" fill="#1b1a14" stroke="#111" stroke-width="1.4"/>
<polyline points="105.9,740.4 122.2,726.3 138.5,725.0 154.8,731.4 171.0,718.6 187.3,727.0 203.6,728.9 219.8,730.8 236.1,719.3 252.4,735.9 268.6,727.6 284.9,733.4 301.2,726.3 317.4,735.9 398.8,723.1" fill="none" stroke="#111" stroke-width="1.4"/>
<path d="M171.0 706.5V730.8M165.2 706.5H176.8M165.2 730.8H176.8" stroke="#111" stroke-width="1.4" fill="none"/>
<path d="M203.6 709.7V728.9M197.8 709.7H209.4M197.8 728.9H209.4" stroke="#111" stroke-width="1.4" fill="none"/>
<path d="M236.1 709.7V727.6M230.3 709.7H241.9M230.3 727.6H241.9" stroke="#111" stroke-width="1.4" fill="none"/>
<path d="M398.8 707.1V734.0M393.0 707.1H404.6M393.0 734.0H404.6" stroke="#111" stroke-width="1.4" fill="none"/>
<rect x="100.5" y="735.0" width="10.8" height="10.8" fill="none" stroke="#111" stroke-width="1.6"/>
<rect x="116.8" y="720.9" width="10.8" height="10.8" fill="none" stroke="#111" stroke-width="1.6"/>
<rect x="133.1" y="719.6" width="10.8" height="10.8" fill="none" stroke="#111" stroke-width="1.6"/>
<rect x="149.3" y="726.0" width="10.8" height="10.8" fill="none" stroke="#111" stroke-width="1.6"/>
<rect x="165.6" y="713.2" width="10.8" height="10.8" fill="none" stroke="#111" stroke-width="1.6"/>
<rect x="181.9" y="721.6" width="10.8" height="10.8" fill="none" stroke="#111" stroke-width="1.6"/>
<rect x="198.2" y="723.5" width="10.8" height="10.8" fill="none" stroke="#111" stroke-width="1.6"/>
<rect x="214.4" y="725.4" width="10.8" height="10.8" fill="none" stroke="#111" stroke-width="1.6"/>
<rect x="230.7" y="713.9" width="10.8" height="10.8" fill="none" stroke="#111" stroke-width="1.6"/>
<rect x="247.0" y="730.5" width="10.8" height="10.8" fill="none" stroke="#111" stroke-width="1.6"/>
<rect x="263.2" y="722.2" width="10.8" height="10.8" fill="none" stroke="#111" stroke-width="1.6"/>
<rect x="279.5" y="728.0" width="10.8" height="10.8" fill="none" stroke="#111" stroke-width="1.6"/>
<rect x="295.8" y="720.9" width="10.8" height="10.8" fill="none" stroke="#111" stroke-width="1.6"/>
<rect x="312.1" y="730.5" width="10.8" height="10.8" fill="none" stroke="#111" stroke-width="1.6"/>
<rect x="393.4" y="717.7" width="10.8" height="10.8" fill="none" stroke="#111" stroke-width="1.6"/>
<path d="M467 111.3H492.2" stroke="#111" stroke-width="1.4"/>
<rect x="474.4" y="105.9" width="10.8" height="10.8" fill="none" stroke="#111" stroke-width="1.6"/>
<text x="500.5" y="116.7" class="gt"><tspan font-style="italic">ob</tspan><tspan class="sup" dy="-8.6">+</tspan><tspan font-style="italic" dy="8.6">/ob</tspan><tspan class="sup" dy="-8.6">+</tspan><tspan dy="8.6" dx="-2"> male</tspan></text>
<path d="M467 138.3H492.2" stroke="#111" stroke-width="1.4"/>
<rect x="474.5" y="133.0" width="10.6" height="10.6" fill="#1b1a14" stroke="#111" stroke-width="1.4"/>
<text x="500.5" y="143.70000000000002" class="gt"><tspan font-style="italic">ob</tspan><tspan class="sup" dy="-8.6">+</tspan><tspan font-style="italic" dy="8.6">/ob</tspan><tspan class="sup" dy="-8.6">+</tspan><tspan dy="8.6" dx="-2"> female</tspan></text>
<path d="M467 165.3H492.2" stroke="#4675ba" stroke-width="1.4"/>
<circle cx="479.8" cy="165.3" r="5.5" fill="none" stroke="#4675ba" stroke-width="1.5"/><path d="M476.0 161.5L483.6 169.1M476.0 169.1L483.6 161.5" stroke="#4675ba" stroke-width="1.3"/>
<text x="500.5" y="170.70000000000002" class="gt"><tspan font-style="italic">ob</tspan><tspan class="sup" dy="-8.6">+</tspan><tspan font-style="italic" dy="8.6">/ob</tspan><tspan class="sup" dy="-8.6">-</tspan><tspan dy="8.6" dx="-2"> male</tspan></text>
<path d="M467 192.5H492.2" stroke="#4675ba" stroke-width="1.4"/>
<circle cx="479.8" cy="192.5" r="6.1" fill="#3f6db4"/>
<text x="500.5" y="197.9" class="gt"><tspan font-style="italic">ob</tspan><tspan class="sup" dy="-8.6">+</tspan><tspan font-style="italic" dy="8.6">/ob</tspan><tspan class="sup" dy="-8.6">-</tspan><tspan dy="8.6" dx="-2"> female</tspan></text>
<path d="M467 219.3H492.2" stroke="#a51b1d" stroke-width="1.4"/>
<path d="M479.8 214.5L484.8 223.9L474.8 223.9Z" fill="none" stroke="#a51b1d" stroke-width="1.6" stroke-linejoin="miter"/>
<text x="500.5" y="224.70000000000002" class="gt"><tspan font-style="italic">ob</tspan><tspan class="sup" dy="-8.6">-</tspan><tspan font-style="italic" dy="8.6">/ob</tspan><tspan class="sup" dy="-8.6">-</tspan><tspan dy="8.6" dx="-2"> male</tspan></text>
<path d="M467 246.2H492.2" stroke="#9c1111" stroke-width="1.4"/>
<path d="M479.8 240.4L485.6 251.4L474.0 251.4Z" fill="#9c1111"/>
<text x="500.5" y="251.6" class="gt"><tspan font-style="italic">ob</tspan><tspan class="sup" dy="-8.6">-</tspan><tspan font-style="italic" dy="8.6">/ob</tspan><tspan class="sup" dy="-8.6">-</tspan><tspan dy="8.6" dx="-2"> female</tspan></text>
<text x="541" y="472.9" text-anchor="middle" class="wk">6 weeks</text>
<text x="711" y="472.5" text-anchor="middle" class="wk">20 weeks</text>
<text x="465" y="494.4" class="gt"><tspan font-style="italic">ob</tspan><tspan class="sup" dy="-8.6">+</tspan><tspan font-style="italic" dy="8.6">/ob</tspan><tspan class="sup" dy="-8.6">+</tspan><tspan dy="8.6" dx="-2"></tspan></text>
<text x="551.5" y="494.6" class="gt"><tspan font-style="italic">ob</tspan><tspan class="sup" dy="-8.6">-</tspan><tspan font-style="italic" dy="8.6">/ob</tspan><tspan class="sup" dy="-8.6">-</tspan><tspan dy="8.6" dx="-2"></tspan></text>
<text x="637" y="494.0" class="gt"><tspan font-style="italic">ob</tspan><tspan class="sup" dy="-8.6">+</tspan><tspan font-style="italic" dy="8.6">/ob</tspan><tspan class="sup" dy="-8.6">+</tspan><tspan dy="8.6" dx="-2"></tspan></text>
<text x="723" y="494.6" class="gt"><tspan font-style="italic">ob</tspan><tspan class="sup" dy="-8.6">-</tspan><tspan font-style="italic" dy="8.6">/ob</tspan><tspan class="sup" dy="-8.6">-</tspan><tspan dy="8.6" dx="-2"></tspan></text>
<defs>
<radialGradient id="fur1" cx="0.45" cy="0.35" r="0.7"><stop offset="0" stop-color="#3e3e41"/><stop offset="0.7" stop-color="#343436"/><stop offset="1" stop-color="#28282a"/></radialGradient>
<radialGradient id="fur1b" cx="0.45" cy="0.3" r="0.7"><stop offset="0" stop-color="#353538"/><stop offset="0.7" stop-color="#2c2c2f"/><stop offset="1" stop-color="#222224"/></radialGradient>
<radialGradient id="fur2" cx="0.5" cy="0.3" r="0.7"><stop offset="0" stop-color="#323236"/><stop offset="0.7" stop-color="#29292d"/><stop offset="1" stop-color="#212125"/></radialGradient>
<radialGradient id="fur3" cx="0.5" cy="0.4" r="0.7"><stop offset="0" stop-color="#1a1819"/><stop offset="0.8" stop-color="#141213"/><stop offset="1" stop-color="#0f0d0e"/></radialGradient>
<linearGradient id="bg1" x1="0" y1="0" x2="0" y2="1"><stop offset="0" stop-color="#e6e5e1"/><stop offset="1" stop-color="#dedcd8"/></linearGradient>
<linearGradient id="bg2" x1="0" y1="0" x2="0" y2="1"><stop offset="0" stop-color="#e3e3e0"/><stop offset="1" stop-color="#dcdcd8"/></linearGradient>
<linearGradient id="bg4" x1="0" y1="0" x2="1" y2="1"><stop offset="0" stop-color="#e0deda"/><stop offset="1" stop-color="#d6d4d0"/></linearGradient>
<filter id="sh" x="-20%" y="-20%" width="140%" height="140%"><feGaussianBlur stdDeviation="4"/></filter>
<filter id="b1" x="-5%" y="-5%" width="110%" height="110%"><feGaussianBlur stdDeviation="0.8"/></filter>
</defs>
<g clip-path="url(#c1)">
<rect x="461" y="507.5" width="155.8" height="116.5" fill="url(#bg1)"/>
<g filter="url(#sh)" opacity="0.35"><ellipse cx="510" cy="608" rx="30" ry="8" fill="#777"/><ellipse cx="570" cy="603" rx="32" ry="8" fill="#777"/></g>
<g filter="url(#b1)">
<path d="M455 503 L522 503 Q526 520 522 531 L505 532 Q490 536 484 548 Q476 557 461 560 L455 561 Z" fill="#3ba5de"/>
<path d="M478 503 L518 503 Q520 512 516 518 Q498 520 482 516 Z" fill="#2159a6"/>
<path d="M455 548 Q468 550 478 553 Q470 558 461 560 L455 561 Z" fill="#2a70b8"/>
<path d="M479 525 L510 523" stroke="#b8e0f4" stroke-width="3" stroke-dasharray="1 2" opacity="0.7"/>
<path d="M475 520 L495 505" stroke="#222" stroke-width="1.5"/>
<path d="M518 505 Q525 512 532 521" stroke="#7a6b66" stroke-width="4.5" fill="none"/>
<path d="M515 519 Q516 525 515 531" stroke="#6a5e4c" stroke-width="4" fill="none"/>
<path d="M488 596 L484 612 M522 598 L525 609 M551 595 L548 603 M595 590 L600 600" stroke="#4a4444" stroke-width="4" fill="none"/>
<ellipse cx="506" cy="603" rx="14" ry="5" fill="#5a5452" opacity="0.7"/>
<path d="M524.2 530.3 C525.4 527.0 527.0 522.7 529.8 520.5 C532.6 518.3 536.4 517.7 541.1 517.0 C545.8 516.3 552.6 515.9 558.0 516.3 C563.4 516.6 569.2 517.5 573.4 519.1 C577.6 520.7 580.2 523.3 583.3 526.1 C586.3 528.9 589.2 532.5 591.7 536.0 C594.2 539.5 596.6 543.0 598.1 547.2 C599.6 551.4 600.4 556.6 600.9 561.3 C601.4 566.0 601.5 571.1 600.9 575.3 C600.3 579.5 599.2 583.3 597.4 586.6 C595.6 589.9 592.6 592.9 590.3 595.0 C587.9 597.1 585.6 598.4 583.3 599.2 C581.0 600.0 578.9 600.1 576.3 599.9 C573.7 599.7 570.1 598.1 567.8 597.8 C565.4 597.5 564.3 597.3 562.2 598.0 C560.1 598.7 558.0 601.1 555.2 602.0 C552.4 602.9 548.6 604.4 545.3 603.5 C542.0 602.6 537.8 599.7 535.5 596.4 C533.2 593.1 532.5 588.5 531.3 583.8 C530.1 579.1 529.6 573.2 528.4 568.3 C527.2 563.4 525.1 558.9 524.2 554.2 C523.3 549.5 522.8 544.2 522.8 540.2 C522.8 536.2 523.0 533.6 524.2 530.3 Z" fill="url(#fur1b)"/>
<path d="M476.9 564.0 C477.0 560.5 476.4 555.6 478.3 551.4 C480.2 547.2 484.6 541.9 488.1 538.7 C491.6 535.5 495.2 533.7 499.4 532.4 C503.6 531.1 509.4 530.6 513.4 531.0 C517.4 531.4 520.2 532.7 523.3 534.5 C526.3 536.3 529.6 538.8 531.7 541.6 C533.8 544.4 535.1 547.7 535.9 551.4 C536.7 555.1 536.8 559.5 536.6 564.0 C536.4 568.5 535.5 573.4 534.5 578.1 C533.5 582.8 531.9 588.5 530.3 592.2 C528.7 596.0 526.6 598.7 524.7 600.6 C522.8 602.5 521.2 603.2 519.1 603.4 C517.0 603.6 514.8 603.1 512.0 602.0 C509.2 600.9 505.5 598.3 502.2 597.0 C498.9 595.7 495.1 595.3 492.3 594.0 C489.5 592.7 487.2 591.6 485.3 589.4 C483.4 587.2 482.4 583.8 481.1 581.0 C479.8 578.2 478.3 575.3 477.6 572.5 C476.9 569.7 476.8 567.5 476.9 564.0 Z" fill="url(#fur1)"/>
<path d="M488 592 Q505 604 522 603 Q512 606 500 603 Q492 599 488 592Z" fill="#b5a598" opacity="0.9"/>
<path d="M562 590 Q570 598 580 600 Q571 601 565 598Z" fill="#a29a98" opacity="0.9"/>
<ellipse cx="492.5" cy="556" rx="7" ry="9.5" fill="#a08878" transform="rotate(-20 492.5 556)"/>
<ellipse cx="530" cy="554" rx="5.5" ry="9" fill="#a08878" transform="rotate(20 530 554)"/>
<ellipse cx="553.8" cy="555.6" rx="7" ry="9" fill="#9c8474" transform="rotate(-10 553.8 555.6)"/>
<ellipse cx="594" cy="550.5" rx="5.5" ry="7" fill="#9c8474" transform="rotate(25 594 550.5)"/>
<ellipse cx="505" cy="578" rx="1.4" ry="1.4" fill="#0a0a0a"/>
<ellipse cx="569.2" cy="578.8" rx="1.4" ry="1.4" fill="#0a0a0a"/>
<ellipse cx="518.3" cy="600" rx="4.2" ry="3.2" fill="#b88c8a"/>
<ellipse cx="580.5" cy="595" rx="4.5" ry="3.5" fill="#6e5250"/>
<ellipse cx="471.2" cy="576.7" rx="5.5" ry="3.8" fill="#e3a9a6" transform="rotate(-15 471.2 576.7)"/>
<ellipse cx="484" cy="615.5" rx="4.2" ry="4.5" fill="#e3a9a6"/>
<ellipse cx="525.4" cy="612" rx="4" ry="4.5" fill="#e3a9a6"/>
<ellipse cx="548.1" cy="606.3" rx="5" ry="5" fill="#e3a9a6"/>
<ellipse cx="601.6" cy="602" rx="6" ry="4.5" fill="#e3a9a6" transform="rotate(30 601.6 602)"/>
</g></g>
<g clip-path="url(#c2)">
<rect x="635" y="505" width="148.8" height="119" fill="url(#bg2)"/>
<g filter="url(#sh)" opacity="0.4"><ellipse cx="668" cy="604" rx="26" ry="8" fill="#777"/><ellipse cx="735" cy="603" rx="34" ry="8" fill="#777"/></g>
<g filter="url(#b1)">
<path d="M635.9 550.2 C636.1 544.2 638.1 536.9 640.2 531.6 C642.3 526.4 645.1 521.7 648.7 518.7 C652.3 515.7 657.3 514.2 661.6 513.7 C665.9 513.2 670.4 514.4 674.5 515.9 C678.6 517.4 682.6 520.4 686.0 523.0 C689.4 525.6 692.8 528.2 695.0 531.6 C697.2 535.0 698.3 538.8 699.0 543.1 C699.7 547.4 699.2 552.6 699.0 557.4 C698.8 562.2 698.8 566.9 698.0 571.7 C697.2 576.5 696.0 581.7 694.0 586.0 C692.0 590.3 688.5 594.9 686.0 597.5 C683.5 600.1 681.2 601.2 678.8 601.7 C676.4 602.2 674.0 601.7 671.6 600.3 C669.2 598.9 667.1 595.4 664.5 593.2 C661.9 591.1 659.0 589.5 655.9 587.4 C652.8 585.2 648.8 583.6 645.9 580.3 C643.0 577.0 640.4 572.4 638.7 567.4 C637.0 562.4 635.6 556.2 635.9 550.2 Z" fill="url(#fur2)"/>
<path d="M696.0 538.8 C698.2 533.8 703.0 530.5 707.2 527.3 C711.5 524.1 716.3 521.3 721.5 519.5 C726.7 517.7 732.9 516.6 738.6 516.6 C744.3 516.6 751.0 518.0 755.8 519.5 C760.6 521.0 764.0 523.2 767.3 525.9 C770.6 528.6 773.4 532.1 775.8 535.9 C778.2 539.7 780.5 544.8 781.6 548.8 C782.7 552.8 782.8 556.4 782.3 560.2 C781.8 564.0 780.2 568.4 778.7 571.7 C777.2 575.1 774.9 577.7 773.0 580.3 C771.1 582.9 769.7 585.5 767.3 587.4 C764.9 589.3 762.1 590.5 758.7 591.7 C755.4 592.9 751.5 594.1 747.2 594.6 C742.9 595.1 736.7 594.1 732.9 594.6 C729.1 595.1 727.6 597.4 724.3 597.4 C721.0 597.4 716.1 596.5 712.9 594.6 C709.7 592.7 707.6 589.8 705.0 586.0 C702.4 582.2 698.8 576.5 697.0 571.7 C695.2 566.9 694.2 562.9 694.0 557.4 C693.8 551.9 693.8 543.8 696.0 538.8 Z" fill="url(#fur2)"/>
<path d="M643 571 Q655 588 668 593 Q676 600 684 600 Q676 604 668 599 Q655 592 645 580Z" fill="#a8927e" opacity="0.9"/>
<path d="M716 588 Q730 598 745 592 Q760 590 770 585 L768 590 Q755 596 740 597 Q725 600 716 592Z" fill="#bca68e" opacity="0.95"/>
<ellipse cx="774" cy="582" rx="4" ry="6" fill="#b8a48e" transform="rotate(20 774 582)" opacity="0.8"/>
<ellipse cx="672" cy="540" rx="5" ry="8" fill="#3e4350" opacity="0.6"/>
<path d="M720 566 Q725 562 731 568" stroke="#c8c8c8" stroke-width="1.8" fill="none" opacity="0.8"/>
<ellipse cx="653" cy="544.5" rx="8.5" ry="12" fill="#9a7f70" transform="rotate(-25 653 544.5)"/>
<ellipse cx="688.8" cy="538.8" rx="6.5" ry="9" fill="#9a7f70" transform="rotate(25 688.8 538.8)"/>
<ellipse cx="711.5" cy="540.2" rx="5.5" ry="9" fill="#9a7f70" transform="rotate(-20 711.5 540.2)"/>
<ellipse cx="753" cy="550.2" rx="8" ry="9" fill="#9a7f70" transform="rotate(10 753 550.2)"/>
<ellipse cx="680" cy="598" rx="4.5" ry="3.5" fill="#7a5a58"/>
<ellipse cx="718.6" cy="590.3" rx="4.5" ry="3.5" fill="#7a5858"/>
<ellipse cx="657.3" cy="594.6" rx="4.5" ry="3.5" fill="#c99a96"/>
<ellipse cx="725.8" cy="604.6" rx="5.5" ry="4.5" fill="#b08a84"/>
<path d="M758.7 594 L760.5 610" stroke="#c8a0a0" stroke-width="3"/>
<ellipse cx="760.5" cy="613" rx="5.5" ry="5.5" fill="#e3a9a6"/>
<ellipse cx="636" cy="560" rx="1.5" ry="4" fill="#d8a09c"/>
</g></g>
<g clip-path="url(#c3)">
<rect x="461" y="636" width="155.8" height="148" fill="#e4e3df"/>
<rect x="534.4" y="636" width="82.4" height="148" fill="#e6e5e1"/>
<g filter="url(#b1)">
<path d="M463.5 636.5 C465.3 637.9 471.4 641.9 474.5 644.8 C477.6 647.7 480.1 651.5 481.8 654.0 C483.5 656.5 484.1 659.0 484.5 660.0" stroke="#877068" stroke-width="4.6" fill="none"/>
<path d="M577.5 636 L577 648 L576 655" stroke="#8c726c" stroke-width="4.2" fill="none"/>
<path d="M483.6 659.5 C479.6 660.4 477.1 664.1 474.5 666.8 C471.9 669.5 469.5 671.9 468.1 675.9 C466.7 679.9 466.2 685.1 466.2 690.6 C466.2 696.1 467.3 702.8 468.1 708.9 C468.9 715.0 469.9 721.1 470.8 727.2 C471.7 733.3 472.4 740.0 473.6 745.5 C474.8 751.0 476.1 755.5 478.1 760.1 C480.1 764.7 483.1 769.8 485.5 773.0 C487.9 776.2 490.5 778.8 492.8 779.4 C495.1 780.0 497.2 778.9 499.2 776.6 C501.2 774.3 502.9 770.2 504.7 765.6 C506.5 761.0 508.7 755.0 510.2 749.2 C511.7 743.4 512.9 737.6 513.8 730.9 C514.7 724.2 515.4 716.2 515.7 708.9 C516.0 701.6 516.0 692.7 515.7 686.9 C515.4 681.1 514.9 677.5 513.8 674.1 C512.7 670.8 511.9 668.9 509.3 666.8 C506.7 664.7 502.6 662.5 498.3 661.3 C494.0 660.1 487.6 658.6 483.6 659.5 Z" fill="url(#fur3)"/>
<path d="M575.6 653.7 C569.8 654.6 560.1 661.1 555.0 664.0 C549.9 666.9 547.1 668.0 544.7 671.3 C542.3 674.6 541.5 678.6 540.5 683.7 C539.5 688.9 538.7 696.4 538.5 702.2 C538.3 708.0 539.0 713.5 539.5 718.7 C540.0 723.9 540.4 728.4 541.6 733.2 C542.8 738.0 544.5 742.5 546.7 747.6 C548.9 752.8 552.9 759.3 555.0 764.1 C557.1 768.9 557.0 774.3 559.1 776.5 C561.2 778.7 565.0 778.5 567.4 777.5 C569.8 776.5 570.5 772.9 573.6 770.3 C576.7 767.7 581.8 765.2 585.9 762.1 C590.0 759.0 594.8 755.5 598.3 751.7 C601.8 747.9 604.2 744.2 606.6 739.4 C609.0 734.6 611.4 729.1 612.8 722.9 C614.2 716.7 614.6 708.7 614.8 702.2 C615.0 695.7 614.5 688.9 613.8 683.7 C613.1 678.6 612.6 674.6 610.7 671.3 C608.8 668.0 605.8 666.1 602.4 664.0 C599.0 661.9 594.6 660.6 590.1 658.9 C585.6 657.2 581.5 652.9 575.6 653.7 Z" fill="url(#fur3)"/>
<ellipse cx="462.5" cy="725" rx="3.5" ry="16" fill="#1c1a1b"/>
<ellipse cx="480" cy="738.2" rx="6" ry="8" fill="#9a7f70" transform="rotate(-10 480 738.2)"/>
<ellipse cx="507.4" cy="737.3" rx="5.5" ry="7.3" fill="#9a7f70" transform="rotate(10 507.4 737.3)"/>
<ellipse cx="546.7" cy="742.5" rx="5.5" ry="7" fill="#9a7f70" transform="rotate(-20 546.7 742.5)"/>
<ellipse cx="584.5" cy="751.7" rx="7.5" ry="6" fill="#9a7f70" transform="rotate(-20 584.5 751.7)"/>
<path d="M513 670 Q522 672 530 677" stroke="#e3a9a6" stroke-width="5" fill="none" stroke-linecap="round"/>
<ellipse cx="463" cy="692.4" rx="2.5" ry="6" fill="#e3a9a6"/>
<ellipse cx="613" cy="672" rx="3.5" ry="6" fill="#e3a9a6"/>
<ellipse cx="592" cy="762" rx="3" ry="3" fill="#e3a9a6"/>
<ellipse cx="541" cy="683" rx="2" ry="4" fill="#e3a9a6"/>
</g></g>
<g clip-path="url(#c4)">
<rect x="635" y="637.6" width="148.8" height="146.2" fill="url(#bg4)"/>
<g filter="url(#b1)">
<path d="M675 636 L673.5 645" stroke="#8c726c" stroke-width="5" fill="none"/>
<path d="M730 637 Q726 642 725 650" stroke="#8c726c" stroke-width="5" fill="none"/>
<path d="M672.5 642.9 C669.3 643.3 666.4 645.3 663.6 647.8 C660.8 650.3 657.9 654.1 655.7 657.7 C653.6 661.3 651.4 665.5 650.7 669.5 C650.0 673.5 650.6 677.1 651.7 681.4 C652.9 685.7 655.3 690.3 657.6 695.2 C659.9 700.1 663.0 706.1 665.5 711.0 C668.0 715.9 670.2 720.2 672.5 724.8 C674.8 729.4 676.9 734.3 679.4 738.6 C681.9 742.9 684.3 746.5 687.3 750.5 C690.2 754.5 693.5 758.7 697.1 762.3 C700.7 765.9 705.4 769.4 709.0 772.2 C712.6 775.0 715.9 778.8 718.9 779.1 C721.9 779.4 724.8 777.3 726.8 774.2 C728.8 771.1 730.6 764.9 731.0 760.3 C731.4 755.7 730.5 751.4 729.0 746.5 C727.5 741.6 724.2 736.0 722.0 730.7 C719.8 725.4 718.0 720.5 716.0 714.9 C714.0 709.3 711.8 703.5 710.0 697.2 C708.2 691.0 706.2 683.0 705.0 677.4 C703.8 671.8 704.5 667.8 703.0 663.6 C701.5 659.4 699.3 655.0 696.0 652.0 C692.7 649.0 686.9 647.0 683.0 645.5 C679.1 644.0 675.7 642.5 672.5 642.9 Z" fill="url(#fur3)"/>
<path d="M724.8 648.8 C720.0 649.4 714.0 650.5 710.0 652.5 C706.0 654.5 702.8 656.5 701.0 660.6 C699.2 664.8 699.2 671.6 699.5 677.4 C699.8 683.2 701.2 689.6 703.0 695.2 C704.8 700.8 707.9 706.4 710.5 711.0 C713.1 715.6 715.5 718.2 718.5 722.8 C721.5 727.4 725.8 733.7 728.5 738.6 C731.2 743.5 732.7 748.5 735.0 752.4 C737.3 756.3 739.9 761.0 742.5 762.3 C745.1 763.6 747.8 762.3 750.4 760.3 C753.0 758.3 755.7 754.1 758.3 750.5 C760.9 746.9 763.9 742.9 766.2 738.6 C768.5 734.3 770.4 730.1 772.2 724.8 C774.0 719.5 776.1 713.2 777.1 707.0 C778.1 700.8 778.4 693.2 778.1 687.3 C777.8 681.4 777.1 676.1 775.1 671.5 C773.1 666.9 770.0 662.9 766.2 659.6 C762.4 656.3 757.0 653.5 752.4 651.7 C747.8 649.9 743.2 649.3 738.6 648.8 C734.0 648.3 729.6 648.2 724.8 648.8 Z" fill="url(#fur3)"/>
<path d="M672 703 Q688 696 705 701" stroke="#9a9aa0" stroke-width="2.5" fill="none" opacity="0.8"/>
<path d="M700 730 Q708 728 714 732" stroke="#6a6a70" stroke-width="2" fill="none" opacity="0.6"/>
<ellipse cx="691.2" cy="746.5" rx="7.5" ry="7" fill="#9a7f70"/>
<ellipse cx="722.8" cy="737" rx="5.5" ry="8" fill="#9a7f70" transform="rotate(20 722.8 737)"/>
<ellipse cx="731" cy="731" rx="5" ry="6" fill="#9a7f70"/>
<ellipse cx="764.3" cy="731.7" rx="7" ry="6" fill="#9a7f70" transform="rotate(-20 764.3 731.7)"/>
<ellipse cx="718" cy="750" rx="4" ry="3" fill="#5a6068" opacity="0.6"/>
<ellipse cx="746" cy="752" rx="4" ry="3" fill="#5a6068" opacity="0.6"/>
<path d="M660 664 Q652 668 644 672" stroke="#e3a9a6" stroke-width="4" fill="none" stroke-linecap="round"/>
<ellipse cx="767" cy="746" rx="3.5" ry="5" fill="#e3a9a6"/>
<ellipse cx="695" cy="758" rx="2.5" ry="2.5" fill="#e3a9a6"/>
</g></g>
</svg>
</body></html>
